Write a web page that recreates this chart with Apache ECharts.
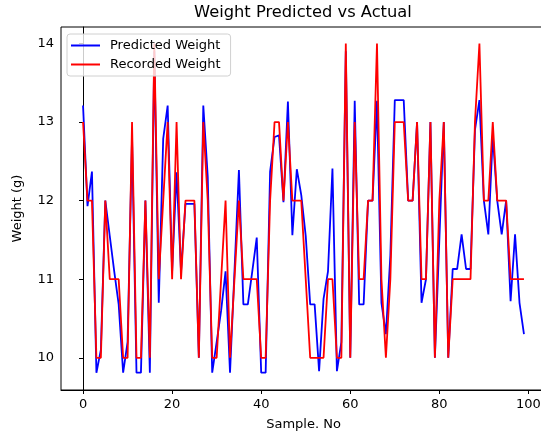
<!DOCTYPE html>
<html>
<head>
<meta charset="utf-8">
<script src="https://cdn.jsdelivr.net/npm/echarts@6/dist/echarts.min.js"></script>
<style>
  html, body { margin: 0; padding: 0; background: #fff; }
  #chart { width: 541px; height: 435px; }
</style>
</head>
<body>
<div id="chart"></div>
<script>
// sample numbers 0..99
var samples = [];
for (var i = 0; i < 100; i++) samples.push(i);

// predicted weight (blue)
var predicted = [
  13.21, 11.93, 12.37, 9.81, 10.1, 12.0, 11.55, 11.1, 10.68, 9.81,
  10.2, 12.8, 9.81, 9.81, 12.0, 9.81, 13.9, 10.7, 12.79, 13.21,
  11.1, 12.36, 11.1, 11.96, 11.96, 11.96, 10.0, 13.21, 12.3, 9.81,
  10.2, 10.6, 11.1, 9.81, 11.1, 12.39, 10.68, 10.68, 11.1, 11.53,
  9.81, 9.81, 12.37, 12.81, 12.83, 11.98, 13.26, 11.56, 12.4, 12.07,
  11.55, 10.68, 10.68, 9.83, 10.75, 11.1, 12.41, 9.83, 10.2, 13.9,
  10.0, 13.27, 10.68, 10.68, 12.0, 12.0, 13.27, 10.7, 10.3, 11.3,
  13.28, 13.28, 13.28, 12.0, 12.0, 13.0, 10.7, 11.0, 13.0, 10.0,
  11.5, 13.0, 10.0, 11.13, 11.13, 11.57, 11.13, 11.13, 12.9, 13.28,
  12.0, 11.57, 12.83, 12.0, 11.57, 12.0, 10.72, 11.57, 10.7, 10.3
];

// recorded weight (red)
var recorded = [
  13, 12, 12, 10, 10, 12, 11, 11, 11, 10,
  10, 13, 10, 10, 12, 10, 14, 11, 12, 13,
  11, 13, 11, 12, 12, 12, 10, 13, 12, 10,
  10, 11, 12, 10, 11, 12, 11, 11, 11, 11,
  10, 10, 12, 13, 13, 12, 13, 12, 12, 12,
  11, 10, 10, 10, 10, 11, 11, 10, 10, 14,
  10, 13, 11, 11, 12, 12, 14, 11, 10, 11,
  13, 13, 13, 12, 12, 13, 11, 11, 13, 10,
  12, 13, 10, 11, 11, 11, 11, 11, 13, 14,
  12, 12, 13, 12, 12, 12, 11, 11, 11, 11
];

var xTicks = [0, 20, 40, 60, 80, 100];
var yTicks = [10, 11, 12, 13, 14];

function pairs(ys) {
  return samples.map(function (x, k) { return [x, ys[k]]; });
}

var chart = echarts.init(document.getElementById('chart'));
var font = 'DejaVu Sans';

chart.setOption({
  animation: false,
  title: {
    text: 'Weight Predicted vs Actual',
    left: 189,
    top: 0,
    textStyle: { fontFamily: font, fontSize: 16.3, fontWeight: 'normal', color: '#000' }
  },
  legend: {
    orient: 'vertical',
    left: 67,
    top: 34,
    padding: [5, 10, 5, 4],
    itemGap: 6,
    itemWidth: 29,
    itemHeight: 2,
    icon: 'rect',
    borderColor: '#d0d0d0',
    borderWidth: 1,
    borderRadius: 3,
    backgroundColor: 'rgba(255,255,255,0.8)',
    textStyle: { fontFamily: font, fontSize: 13, color: '#000', padding: [0, 0, 0, 5] },
    data: ['Predicted Weight', 'Recorded Weight']
  },
  grid: {
    left: 61, width: 485, top: 27, bottom: 45,
    outerBoundsMode: 'none',
    containLabel: false,
    show: true, borderColor: '#000', borderWidth: 1
  },
  xAxis: {
    type: 'value',
    min: -4.95,
    max: 103.95,
    name: 'Sample. No',
    nameLocation: 'middle',
    nameGap: 28,
    nameTextStyle: { fontFamily: font, fontSize: 13, color: '#000' },
    axisLine: { show: true, lineStyle: { color: '#000', width: 1 } },
    axisTick: { show: true, length: 4, lineStyle: { color: '#000' }, customValues: xTicks },
    axisLabel: { fontFamily: font, fontSize: 13, color: '#000', margin: 8, customValues: xTicks },
    splitLine: { show: false }
  },
  yAxis: {
    type: 'value',
    min: 9.59,
    max: 14.21,
    name: 'Weight (g)',
    nameLocation: 'middle',
    nameRotate: 90,
    nameGap: 37,
    nameTextStyle: { fontFamily: font, fontSize: 13, color: '#000' },
    axisLine: { show: true, lineStyle: { color: '#000', width: 1 } },
    axisTick: { show: true, length: 4, lineStyle: { color: '#000' }, customValues: yTicks },
    axisLabel: { fontFamily: font, fontSize: 13, color: '#000', margin: 7, customValues: yTicks },
    splitLine: { show: false }
  },
  series: [
    {
      name: 'Predicted Weight',
      type: 'line',
      data: pairs(predicted),
      showSymbol: false,
      color: '#0000ff',
      lineStyle: { color: '#0000ff', width: 1.8 }
    },
    {
      name: 'Recorded Weight',
      type: 'line',
      data: pairs(recorded),
      showSymbol: false,
      color: '#ff0000',
      lineStyle: { color: '#ff0000', width: 1.8 }
    }
  ]
});
</script>
</body>
</html>
